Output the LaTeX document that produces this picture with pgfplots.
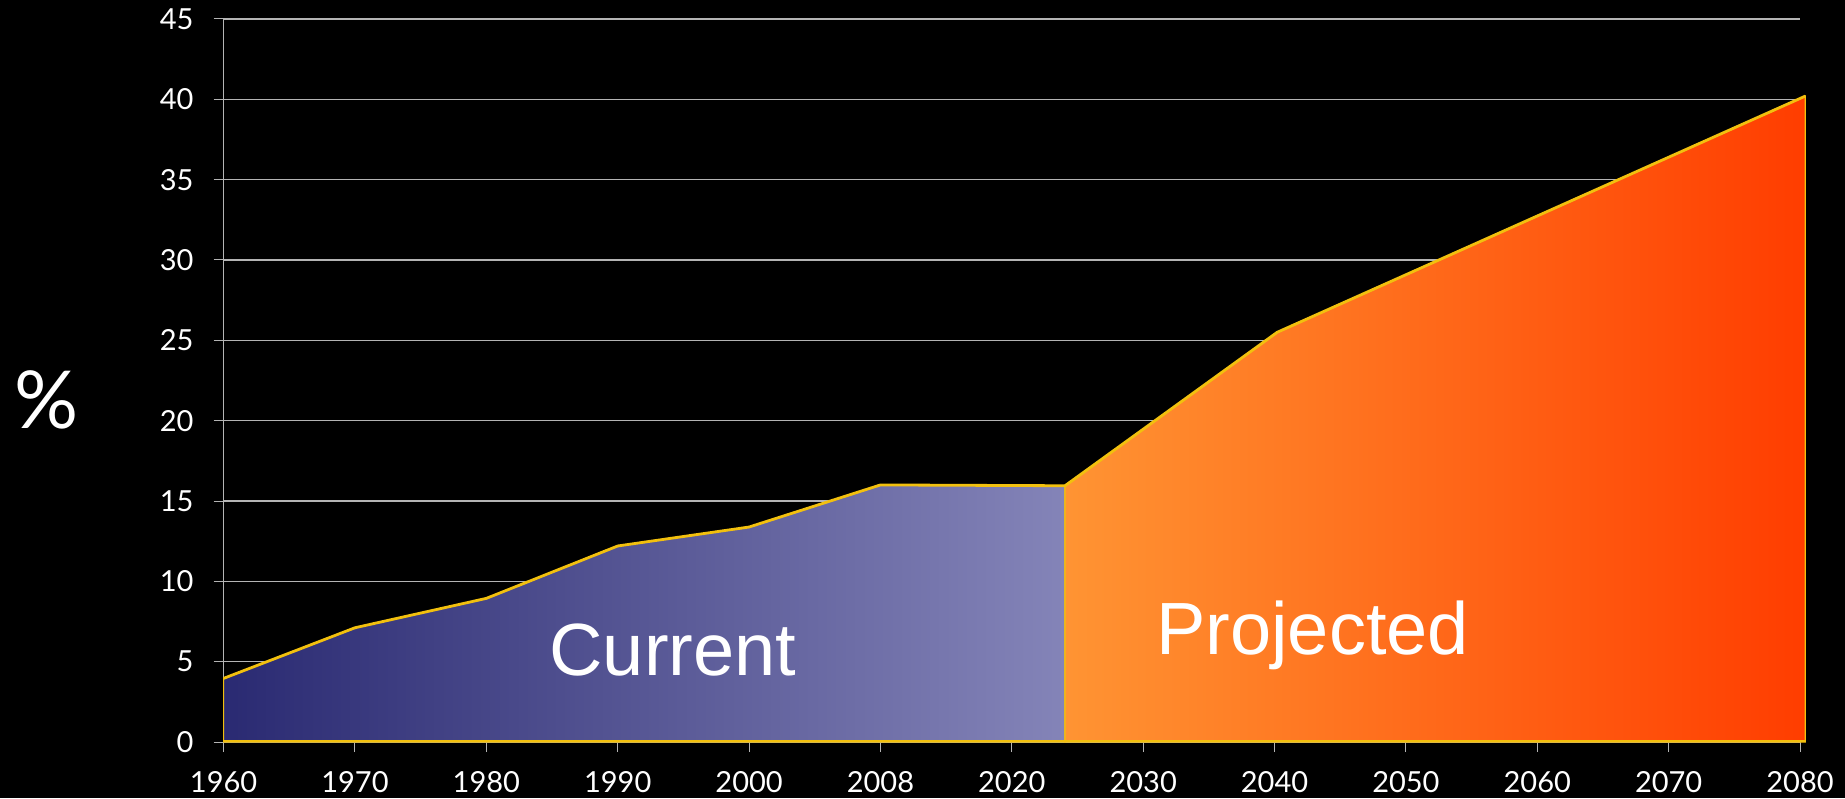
\documentclass[border=0pt]{standalone}
\usepackage{pgfplots}
\pgfplotsset{compat=1.18}
\usepackage{fontspec}
\setmainfont{Lato}
\newfontfamily\arial{Liberation Sans}
\definecolor{curL}{HTML}{2A2A72}
\definecolor{curR}{HTML}{8484B8}
\definecolor{proL}{HTML}{FF9433}
\definecolor{proR}{HTML}{FF3D00}
\definecolor{yel}{HTML}{F2C00E}
\definecolor{gridc}{HTML}{B4B4B4}
\begin{document}
\begin{tikzpicture}
\fill[black] (-111.8pt,-28pt) rectangle (810.7pt,371pt);
\useasboundingbox (-111.8pt,-28pt) rectangle (810.7pt,371pt);
\begin{axis}[
  scale only axis,
  width=788.2pt, height=361.5pt,
  xmin=0, xmax=12, ymin=0, ymax=45,
  clip=false,
  axis lines*=left,
  axis line style={gridc, line width=0.5pt},
  xtick={0,...,12},
  xticklabels={1960,1970,1980,1990,2000,2008,2020,2030,2040,2050,2060,2070,2080},
  ytick={0,5,...,45},
  ymajorgrids,
  grid style={gridc, line width=0.6pt},
  tick align=outside,
  major tick length=5pt,
  tick style={gridc, line width=0.5pt},
  ticklabel style={font=\fontsize{14.5}{16}\selectfont, text=white},
  /pgf/number format/assume math mode=true,
  yticklabel style={xshift=-6.5pt},
  xticklabel style={yshift=-6pt},
]
\addplot[draw=yel, line width=0.6pt, left color=curL, right color=curR]
  coordinates {(0,0) (0,3.96) (1,7.11) (2,8.94) (3,12.2) (4,13.38) (5,16.0) (6.405,15.95) (6.405,0)} -- cycle;
\addplot[draw=yel, line width=0.6pt, left color=proL, right color=proR]
  coordinates {(6.405,0) (6.405,15.95) (8.02,25.5) (12.04,40.2) (12.04,0)} -- cycle;
\addplot[yel, line width=1.4pt, line join=round]
  coordinates {(0,3.96) (1,7.11) (2,8.94) (3,12.2) (4,13.38) (5,16.0) (6.405,15.95) (8.02,25.5) (12.04,40.2)};
\addplot[yel, line width=1.2pt] coordinates {(0,0.05) (12.04,0.05)};
\node[text=white, font=\arial\fontsize{37}{40}\selectfont] at (axis cs:3.42,5.72) {Current};
\node[text=white, font=\arial\fontsize{37}{40}\selectfont] at (axis cs:8.29,6.66) {Projected};
\end{axis}
\node[text=white, font=\fontsize{40}{44}\selectfont] at (-88.3pt,171pt) {\%};
\end{tikzpicture}
\end{document}
